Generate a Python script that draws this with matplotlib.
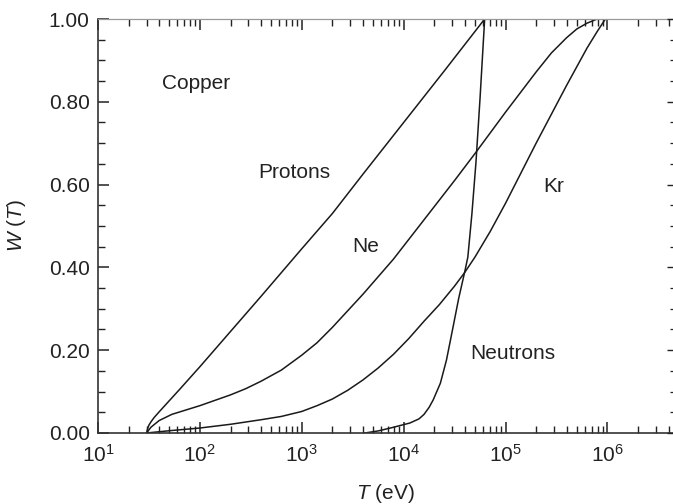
import matplotlib
matplotlib.use("Agg")
import matplotlib.pyplot as plt
import numpy as np
from matplotlib.ticker import LogLocator, MultipleLocator, FormatStrFormatter, NullFormatter

plt.rcParams["font.family"] = ["Liberation Sans", "DejaVu Sans"]
plt.rcParams["mathtext.fontset"] = "custom"
plt.rcParams["mathtext.rm"] = "Liberation Sans"
plt.rcParams["mathtext.it"] = "Liberation Sans:italic"

# log10 of T (eV) and W(T) (copper target)
protons_logT = [1.477, 1.49, 1.50, 1.52, 1.55, 1.60, 1.70, 1.80, 2.0, 2.3, 2.6, 3.0, 3.3, 3.6, 4.0, 4.4, 4.795]
protons_W = [0, 0.013, 0.019, 0.027, 0.037, 0.051, 0.078, 0.105, 0.16, 0.245, 0.33, 0.445, 0.53, 0.625, 0.75, 0.875, 1.0]

ne_logT = [1.477, 1.52, 1.60, 1.725, 2.0, 2.3, 2.45, 2.6, 2.8, 3.0, 3.15, 3.3, 3.6, 3.9, 4.2, 4.5, 4.7, 5.0,
           5.3, 5.45, 5.6, 5.7, 5.8, 5.9]
ne_W = [0, 0.014, 0.030, 0.045, 0.066, 0.092, 0.107, 0.125, 0.152, 0.188, 0.218, 0.255, 0.335, 0.42, 0.515,
        0.61, 0.675, 0.775, 0.872, 0.918, 0.955, 0.976, 0.99, 1.0]

kr_logT = [1.477, 1.6, 1.725, 2.0, 2.3, 2.6, 2.8, 3.0, 3.15, 3.3, 3.45, 3.6, 3.75, 3.9, 4.05, 4.2, 4.35, 4.5,
           4.6, 4.7, 4.85, 5.0, 5.3, 5.6, 5.8, 5.9, 5.98]
kr_W = [0, 0.003, 0.006, 0.012, 0.021, 0.032, 0.04, 0.052, 0.066, 0.082, 0.103, 0.128, 0.157, 0.19, 0.228,
        0.27, 0.31, 0.355, 0.388, 0.425, 0.487, 0.555, 0.70, 0.84, 0.93, 0.97, 1.0]

neutrons_logT = [3.62, 3.75, 3.87, 4.06, 4.15, 4.20, 4.25, 4.29, 4.36, 4.42, 4.48, 4.54, 4.60, 4.63, 4.67,
                 4.71, 4.75, 4.795]
neutrons_W = [0, 0.005, 0.012, 0.024, 0.034, 0.045, 0.062, 0.08, 0.12, 0.176, 0.25, 0.325, 0.39, 0.425, 0.53,
              0.655, 0.81, 1.0]

labels = ["Copper", "Protons", "Ne", "Kr", "Neutrons"]
label_pos = [(91, 0.845), (850, 0.63), (4260, 0.45), (2.95e5, 0.595), (1.17e5, 0.193)]

fig = plt.figure(figsize=(6.73, 5.04), dpi=100)
ax = fig.add_axes([0.1456, 0.1409, 0.8544, 0.8214])

for logT, W in [(protons_logT, protons_W), (ne_logT, ne_W), (kr_logT, kr_W), (neutrons_logT, neutrons_W)]:
    ax.plot(10 ** np.array(logT), W, color="#1a1a1a", lw=1.1)

for txt, (x, y) in zip(labels, label_pos):
    ax.text(x, y, txt, fontsize=15, color="#222222", ha="center", va="center")

ax.set_xscale("log")
ax.set_xlim(10, 4.4e6)
ax.set_ylim(0, 1.0)
ax.xaxis.set_major_locator(LogLocator(base=10, numticks=10))
ax.xaxis.set_minor_locator(LogLocator(base=10, subs=np.arange(2, 10), numticks=20))
ax.xaxis.set_minor_formatter(NullFormatter())
ax.yaxis.set_major_locator(MultipleLocator(0.2))
ax.yaxis.set_minor_locator(MultipleLocator(0.05))
ax.yaxis.set_major_formatter(FormatStrFormatter("%.2f"))

ax.tick_params(which="both", direction="in", top=True, right=False, colors="#222222",
               labelsize=15, labelcolor="#222222")
ax.tick_params(which="major", length=8, width=1.1)
ax.tick_params(which="minor", length=5, width=1.0)
ax.tick_params(axis="x", which="major", pad=8)
ax.tick_params(axis="y", which="major", pad=6)

ax.spines["right"].set_visible(False)
ax.spines["top"].set_color("#999999")
ax.spines["top"].set_linewidth(0.9)
for s in ["left", "bottom"]:
    ax.spines[s].set_color("#333333")
    ax.spines[s].set_linewidth(1.2)

# short inward ticks along the right edge
ax2 = ax.twinx()
ax2.set_ylim(0, 1.0)
ax2.yaxis.set_major_locator(MultipleLocator(0.2))
ax2.yaxis.set_minor_locator(MultipleLocator(0.05))
ax2.tick_params(which="both", direction="in", labelright=False, colors="#222222")
ax2.tick_params(which="major", length=4, width=1.0)
ax2.tick_params(which="minor", length=2.5, width=0.9)
for s in ax2.spines.values():
    s.set_visible(False)

ax.set_xlabel(r"$\mathit{T}$ (eV)", fontsize=15, color="#222222")
ax.xaxis.set_label_coords(0.5, -0.145)
ax.xaxis.label.set_va("center")
ax.set_ylabel(r"$\mathit{W}$ ($\mathit{T}$)", fontsize=15, color="#222222")
ax.yaxis.set_label_coords(-0.142, 0.5)
ax.yaxis.label.set_va("center")

fig.savefig("out.png", dpi=100)
